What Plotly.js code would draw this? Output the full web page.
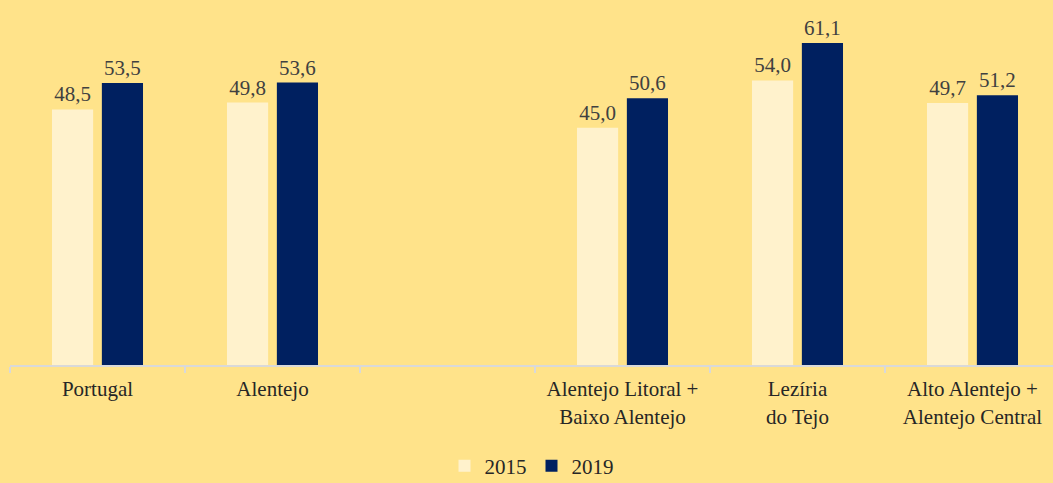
<!DOCTYPE html>
<html>
<head>
<meta charset="utf-8">
<script src="https://cdn.plot.ly/plotly-3.0.1.min.js"></script>
<style>html,body{margin:0;padding:0;background:#FFE38A;}#chart{width:1053px;height:483px;}</style>
</head>
<body>
<div id="chart"></div>
<script>
const categories = ["Portugal", "Alentejo", " ", "Alentejo Litoral +<br>Baixo Alentejo", "Lezíria<br>do Tejo", "Alto Alentejo +<br>Alentejo Central"];
const values2015 = [48.5, 49.8, null, 45.0, 54.0, 49.7];
const values2019 = [53.5, 53.6, null, 50.6, 61.1, 51.2];
const seriesNames = ["2015", "2019"];

const fmt = v => v == null ? "" : v.toFixed(1).replace(".", ",");
const serif = "'Liberation Serif', 'Times New Roman', serif";
const textFont = {family: serif, size: 21, color: "#404040"};

const traces = [
  {type: "bar", name: seriesNames[0], x: categories, y: values2015, text: values2015.map(fmt),
   textposition: "outside", cliponaxis: false, textfont: textFont, marker: {color: "#FFF2CC"}, hoverinfo: "skip"},
  {type: "bar", name: seriesNames[1], x: categories, y: values2019, text: values2019.map(fmt),
   textposition: "outside", cliponaxis: false, textfont: textFont, marker: {color: "#002060"}, hoverinfo: "skip"}
];

const layout = {
  width: 1053, height: 483,
  paper_bgcolor: "#FFE38A", plot_bgcolor: "#FFE38A",
  margin: {l: 10, r: 0, t: 0, b: 118},
  barmode: "group", bargap: 0.43, bargroupgap: 0.175,
  font: {family: serif, size: 21, color: "#262626"},
  xaxis: {
    type: "category", range: [-0.5, 5.46], fixedrange: true,
    showline: true, linecolor: "#D9D9D9", linewidth: 2,
    ticks: "outside", tickson: "boundaries", ticklen: 6, tickcolor: "#D9D9D9", tickwidth: 2,
    ticklabelstandoff: 4,
    tickfont: {family: serif, size: 21, color: "#262626"},
    showgrid: false, zeroline: false
  },
  yaxis: {range: [0, 69.26], visible: false, showgrid: false, zeroline: false, fixedrange: true},
  showlegend: true,
  legend: {orientation: "h", x: 0.5, xanchor: "center", yref: "container", y: 0.035, yanchor: "middle",
    font: {family: serif, size: 21, color: "#262626"},
    itemwidth: 30, bgcolor: "rgba(0,0,0,0)", traceorder: "normal"}
};

Plotly.newPlot("chart", traces, layout, {displayModeBar: false, staticPlot: true});
</script>
</body>
</html>
